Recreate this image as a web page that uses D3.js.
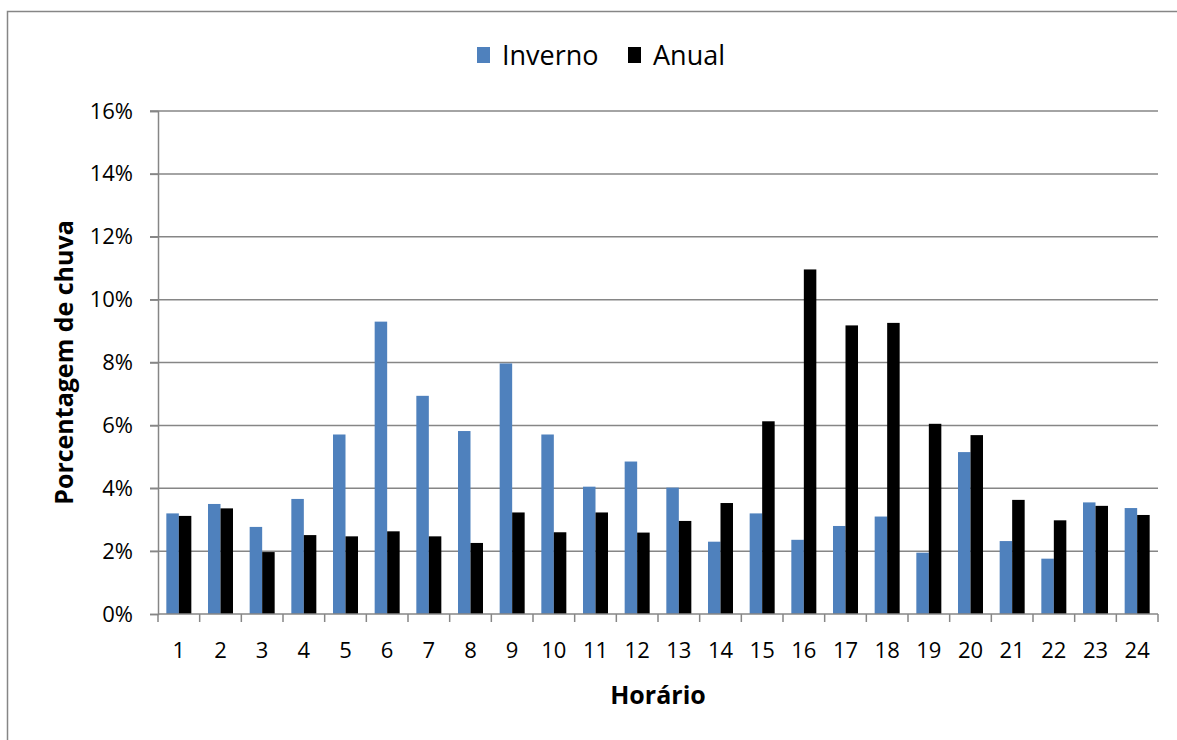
<!DOCTYPE html>
<html>
<head>
<meta charset="utf-8">
<script src="https://cdn.jsdelivr.net/npm/d3@7"></script>
<style>
  body { margin: 0; background: #fff; }
  svg text { font-family: "Open Sans", sans-serif; fill: #000; }
</style>
</head>
<body>
<div id="chart"></div>
<script>
// hours 1..24
var horas = ["1","2","3","4","5","6","7","8","9","10","11","12","13","14","15","16","17","18","19","20","21","22","23","24"];
// percentage of rain, winter
var inverno = [3.20, 3.50, 2.77, 3.66, 5.71, 9.30, 6.94, 5.82, 7.97, 5.71, 4.05, 4.85,
               4.02, 2.30, 3.20, 2.36, 2.80, 3.10, 1.95, 5.15, 2.32, 1.76, 3.55, 3.37];
// percentage of rain, whole year
var anual = [3.12, 3.36, 1.97, 2.51, 2.47, 2.63, 2.47, 2.26, 3.23, 2.60, 3.23, 2.59,
             2.96, 3.53, 6.13, 10.96, 9.18, 9.26, 6.05, 5.69, 3.63, 2.98, 3.44, 3.15];
var yTicks = [0, 2, 4, 6, 8, 10, 12, 14, 16];
var series = ["Inverno", "Anual"];
var cores = ["#4F81BD", "#000000"];

var width = 1177, height = 740;
var margin = { top: 111, right: 19, bottom: 126, left: 158 };
var plotW = width - margin.left - margin.right;
var plotH = height - margin.top - margin.bottom;
var gridColor = "#868686";

var svg = d3.select("#chart").append("svg")
  .attr("width", width)
  .attr("height", height);

// outer chart frame (only left and top are in view)
svg.append("rect")
  .attr("x", 7.5).attr("y", 11.5)
  .attr("width", 1300).attr("height", 900)
  .attr("fill", "none")
  .attr("stroke", gridColor)
  .attr("stroke-width", 1.5);

var g = svg.append("g")
  .attr("transform", "translate(" + margin.left + "," + margin.top + ")");

var x0 = d3.scaleBand().domain(horas).range([0, plotW]).paddingInner(0.4).paddingOuter(0.2);
var x1 = d3.scaleBand().domain(series).range([0, x0.bandwidth()]);
var y = d3.scaleLinear().domain([0, 16]).range([plotH, 0]);

// gridlines
g.selectAll(".grid").data(yTicks.slice(1)).enter().append("line")
  .attr("x1", -8).attr("x2", plotW)
  .attr("y1", d => y(d)).attr("y2", d => y(d))
  .attr("stroke", gridColor).attr("stroke-width", 1.5);

// bars
var dados = horas.map((h, i) => ({ h: h, vals: [inverno[i], anual[i]] }));
var grupos = g.selectAll(".grupo").data(dados).enter().append("g")
  .attr("transform", d => "translate(" + x0(d.h) + ",0)");
grupos.selectAll("rect").data(d => d.vals.map((v, j) => ({ s: series[j], v: v, c: cores[j] })))
  .enter().append("rect")
  .attr("x", d => x1(d.s))
  .attr("width", x1.bandwidth())
  .attr("y", d => y(d.v))
  .attr("height", d => plotH - y(d.v))
  .attr("fill", d => d.c);

// y axis
var yAxis = g.append("g")
  .call(d3.axisLeft(y).tickValues(yTicks).tickFormat(d => d + "%").tickSize(8).tickPadding(17));
yAxis.select(".domain").attr("stroke", gridColor).attr("stroke-width", 1.5);
yAxis.selectAll(".tick line").attr("stroke", gridColor).attr("stroke-width", 1.5);
yAxis.selectAll(".tick text").attr("font-size", 22).attr("font-family", "Open Sans").attr("fill", "#000");

// x axis: ticks at category boundaries
var xAxis = g.append("g").attr("transform", "translate(0," + plotH + ")");
xAxis.append("line").attr("x1", 0).attr("x2", plotW)
  .attr("stroke", gridColor).attr("stroke-width", 1.5);
var bordas = d3.range(horas.length + 1).map(i => i * x0.step());
xAxis.selectAll(".tk").data(bordas).enter().append("line")
  .attr("x1", d => d).attr("x2", d => d)
  .attr("y1", 0).attr("y2", 8)
  .attr("stroke", gridColor).attr("stroke-width", 1.5);
xAxis.selectAll(".lbl").data(horas).enter().append("text")
  .attr("x", d => x0(d) + x0.bandwidth() / 2)
  .attr("y", 44)
  .attr("text-anchor", "middle")
  .attr("font-size", 22)
  .text(d => d);

// axis titles
svg.append("text")
  .attr("x", margin.left + plotW / 2).attr("y", 704)
  .attr("text-anchor", "middle")
  .attr("font-size", 25).attr("font-weight", "bold")
  .text("Horário");
svg.append("text")
  .attr("transform", "translate(73," + (margin.top + plotH / 2) + ") rotate(-90)")
  .attr("text-anchor", "middle")
  .attr("font-size", 25).attr("font-weight", "bold")
  .text("Porcentagem de chuva");

// legend
var legX = [477, 628];
var leg = svg.selectAll(".leg").data(series).enter().append("g")
  .attr("transform", (d, i) => "translate(" + legX[i] + ",0)");
leg.append("rect").attr("x", 0).attr("y", 47).attr("width", 13).attr("height", 16)
  .attr("fill", (d, i) => cores[i]);
leg.append("text").attr("x", 25).attr("y", 65)
  .attr("font-size", 27)
  .text(d => d);
</script>
</body>
</html>
